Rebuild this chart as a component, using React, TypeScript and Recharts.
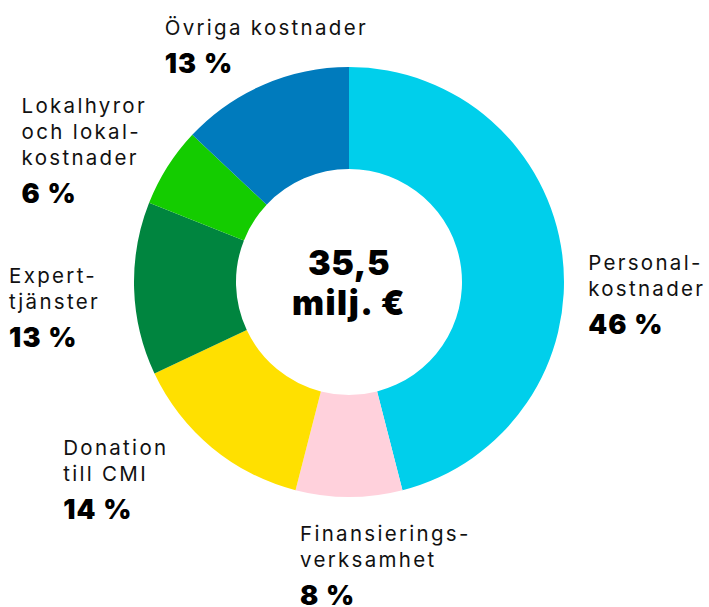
import React from "react";
import { PieChart, Pie, Cell, Label } from "recharts";

const categories: string[][] = [
  ["Personal-", "kostnader"],
  ["Finansierings-", "verksamhet"],
  ["Donation", "till CMI"],
  ["Expert-", "tjänster"],
  ["Lokalhyror", "och lokal-", "kostnader"],
  ["Övriga kostnader"],
];
const shares: number[] = [46, 8, 14, 13, 6, 13];
const colors: string[] = ["#00CFEB", "#FFD1DC", "#FFE000", "#00853F", "#14CC00", "#007BBD"];
const totalLines: string[] = ["35,5", "milj. €"];

// label block offsets from the radial anchor (dx, dy of first baseline)
const labelOffsets: [number, number][] = [
  [6, 17],
  [-49, 24],
  [-136, -8],
  [-105, -6],
  [-129, -43],
  [-91, -31],
];

const data = categories.map((lines, i) => ({ name: lines.join(" "), value: shares[i] }));

const FONT = "Inter, 'DejaVu Sans', sans-serif";
const RAD = Math.PI / 180;

const renderLabel = (props: any) => {
  const { cx, cy, midAngle, outerRadius, index } = props;
  const r = outerRadius + 20;
  const ax = cx + r * Math.cos(-midAngle * RAD);
  const ay = cy + r * Math.sin(-midAngle * RAD);
  const [dx, dy] = labelOffsets[index];
  const x = ax + dx;
  const y0 = ay + dy;
  const lines = categories[index];
  return (
    <g key={`lbl-${index}`}>
      {lines.map((ln, j) => (
        <text
          key={j}
          x={x}
          y={y0 + j * 26}
          fill="#111"
          fontFamily={FONT}
          fontSize={20.5}
          fontWeight={400}
          letterSpacing={2.3}
        >
          {ln}
        </text>
      ))}
      <text
        x={x}
        y={y0 + (lines.length - 1) * 26 + 38}
        fill="#000"
        fontFamily={FONT}
        fontSize={27}
        fontWeight={900}
        letterSpacing={1.2}
      >
        {`${shares[index]} %`}
      </text>
    </g>
  );
};

const CenterLabel = (props: any) => {
  const vb = props.viewBox || {};
  const cx = vb.cx ?? 349;
  const cy = vb.cy ?? 282;
  return (
    <g>
      <text x={cx} y={cy - 7} textAnchor="middle" fill="#000" fontFamily={FONT} fontSize={34} fontWeight={900} letterSpacing={0.5}>
        {totalLines[0]}
      </text>
      <text x={cx} y={cy + 33} textAnchor="middle" fill="#000" fontFamily={FONT} fontSize={34} fontWeight={900} letterSpacing={1.5}>
        {totalLines[1]}
      </text>
    </g>
  );
};

export default function App() {
  return (
    <div style={{ position: "absolute", left: 0, top: 0, width: 709, height: 607, background: "#fff" }}>
      <PieChart width={709} height={607} margin={{ top: 0, right: 0, bottom: 0, left: 0 }}>
        <Pie
          data={data}
          dataKey="value"
          nameKey="name"
          cx={349}
          cy={282}
          innerRadius={113}
          outerRadius={215}
          startAngle={90}
          endAngle={-270}
          stroke="none"
          labelLine={false}
          label={renderLabel}
          isAnimationActive={false}
        >
          {data.map((d, i) => (
            <Cell key={d.name} fill={colors[i]} stroke="none" />
          ))}
          <Label position="center" content={<CenterLabel />} />
        </Pie>
      </PieChart>
    </div>
  );
}
